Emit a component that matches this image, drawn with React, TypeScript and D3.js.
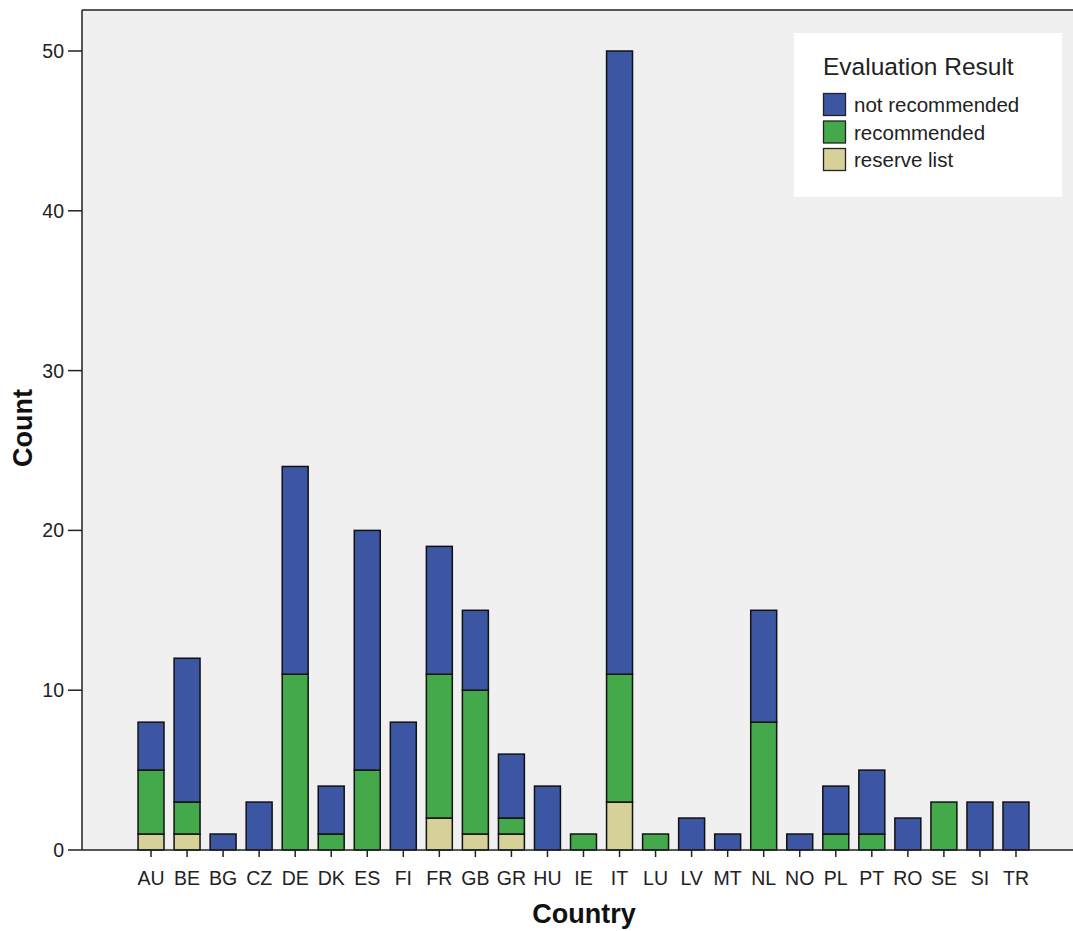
import React from "react";
import * as d3 from "d3";

const countries = ["AU","BE","BG","CZ","DE","DK","ES","FI","FR","GB","GR","HU","IE","IT","LU","LV","MT","NL","NO","PL","PT","RO","SE","SI","TR"];
const reserveList = [1,1,0,0,0,0,0,0,2,1,1,0,0,3,0,0,0,0,0,0,0,0,0,0,0];
const recommended = [4,2,0,0,11,1,5,0,9,9,1,0,1,8,1,0,0,8,0,1,1,0,3,0,0];
const notRecommended = [3,9,1,3,13,3,15,8,8,5,4,4,0,39,0,2,1,7,1,3,4,2,0,3,3];
const seriesNames = ["reserve list","recommended","not recommended"];
const seriesColors = ["#d5d199","#43a94b","#3d56a3"];
const yTicks = [0,10,20,30,40,50];

const W = 1073, H = 931;
const plotLeft = 82, plotTop = 10, plotBottom = 850, plotRight = 1073;

export default function App() {
  const x = d3.scaleBand<string>().domain(countries).range([133, 1034]).paddingInner(0.28).paddingOuter(0.14);
  const y = d3.scaleLinear().domain([0, 50]).range([850, 51]);
  const rows = countries.map((c, i) => ({ country: c, "reserve list": reserveList[i], recommended: recommended[i], "not recommended": notRecommended[i] }));
  const stack = d3.stack<any>().keys(seriesNames)(rows);
  const font = "'Liberation Sans', Arial, sans-serif";
  const legendItems = [
    { name: "not recommended", color: seriesColors[2] },
    { name: "recommended", color: seriesColors[1] },
    { name: "reserve list", color: seriesColors[0] },
  ];
  return (
    <svg width={W} height={H} style={{ position: "absolute", left: 0, top: 0, background: "#fff" }} fontFamily={font}>
      <rect x={plotLeft} y={plotTop} width={plotRight - plotLeft} height={plotBottom - plotTop} fill="#f0f0f0" />
      {stack.map((s, si) => (
        <g key={si} fill={seriesColors[si]}>
          {s.map((d, i) => d[1] - d[0] > 0 ? (
            <rect key={i} x={x(countries[i])} y={y(d[1])} width={x.bandwidth()} height={y(d[0]) - y(d[1])} stroke="#111" strokeWidth={1.5} />
          ) : null)}
        </g>
      ))}
      <line x1={plotLeft} x2={plotRight} y1={plotTop} y2={plotTop} stroke="#222" strokeWidth={1.5} />
      <line x1={plotLeft} x2={plotLeft} y1={plotTop} y2={plotBottom} stroke="#222" strokeWidth={1.5} />
      <line x1={plotLeft} x2={plotRight} y1={plotBottom} y2={plotBottom} stroke="#222" strokeWidth={1.5} />
      {yTicks.map(t => (
        <g key={t}>
          <line x1={68} x2={plotLeft} y1={y(t)} y2={y(t)} stroke="#222" strokeWidth={1.5} />
          <text x={64} y={y(t)} dy="0.36em" textAnchor="end" fontSize={19.5} fill="#222">{t}</text>
        </g>
      ))}
      {countries.map(c => {
        const cx = (x(c) as number) + x.bandwidth() / 2;
        return (
          <g key={c}>
            <line x1={cx} x2={cx} y1={plotBottom} y2={plotBottom + 7} stroke="#222" strokeWidth={1.5} />
            <text x={cx} y={885} textAnchor="middle" fontSize={19.5} fill="#222">{c}</text>
          </g>
        );
      })}
      <text x={584} y={923} textAnchor="middle" fontSize={27} fontWeight="bold" fill="#111">Country</text>
      <text transform={`translate(32,428) rotate(-90)`} textAnchor="middle" fontSize={27} fontWeight="bold" fill="#111">Count</text>
      <rect x={794} y={33} width={268} height={164} fill="#fff" />
      <text x={823} y={75} fontSize={24.5} fill="#222">Evaluation Result</text>
      {legendItems.map((it, i) => (
        <g key={it.name}>
          <rect x={823.5} y={93.5 + i * 27.5} width={22} height={22} fill={it.color} stroke="#222" strokeWidth={1.3} />
          <text x={854} y={112 + i * 27.5} fontSize={20.5} fill="#222">{it.name}</text>
        </g>
      ))}
    </svg>
  );
}
